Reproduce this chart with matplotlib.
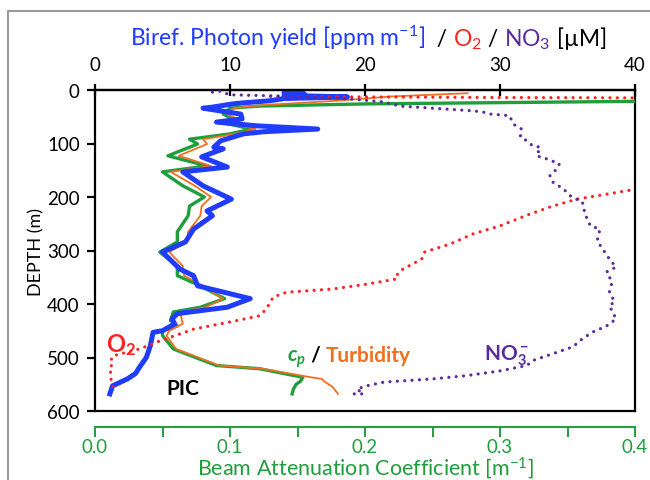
import numpy as np
import matplotlib.pyplot as plt
from matplotlib.patches import Rectangle

plt.rcParams['font.family'] = ['Lato', 'DejaVu Sans']
plt.rcParams['mathtext.fontset'] = 'custom'
plt.rcParams['mathtext.rm'] = 'Lato'
plt.rcParams['mathtext.it'] = 'Lato:italic'
plt.rcParams['mathtext.bf'] = 'Lato:bold'
plt.rcParams['mathtext.bfit'] = 'Lato:bold:italic'
plt.rcParams['mathtext.default'] = 'regular'

# Birefringent photon yield / PIC (ppm m^-1), top axis
blue_depth = [2, 5, 7, 10, 13, 16, 20, 24, 26, 32, 34, 45, 54, 60, 67, 73, 78, 82,
              95, 107, 110, 125, 144, 153, 179, 204, 226, 235, 260, 284, 303,
              335, 347, 366, 390, 406, 418, 428, 437, 450, 453, 478, 500, 518,
              530, 540, 553, 568]
blue_val = [15.3, 14.0, 15.5, 14.0, 18.7, 14.0, 13.0, 11.0, 10.2, 8.7, 8.0, 10.8, 10.9,
            9.0, 12.0, 16.5, 12.5, 11.0, 9.3, 8.8, 9.5, 7.9, 9.8, 6.5, 8.0, 10.1,
            8.3, 8.7, 7.3, 6.7, 5.0, 6.3, 7.3, 7.6, 11.5, 9.8, 6.1, 5.7, 5.9,
            5.0, 4.3, 4.1, 3.8, 3.3, 3.0, 2.4, 1.3, 1.1]

# Beam attenuation cp (m^-1), bottom axis
cp_depth = [20, 26, 30, 34, 45, 54, 60, 73, 82, 92, 101, 123, 142, 153, 179, 200,
            217, 235, 265, 284, 303, 329, 347, 366, 390, 406, 415, 431, 441, 450,
            459, 484, 515, 521, 537, 545, 550, 559, 568]
cp_val = [0.45, 0.20, 0.122, 0.100, 0.095, 0.102, 0.093, 0.116, 0.100, 0.070, 0.076,
          0.054, 0.083, 0.050, 0.065, 0.081, 0.070, 0.069, 0.061, 0.061, 0.048,
          0.061, 0.061, 0.078, 0.096, 0.078, 0.058, 0.056, 0.061, 0.050, 0.050,
          0.058, 0.090, 0.122, 0.154, 0.152, 0.149, 0.147, 0.146]

# Turbidity (scaled to cp axis)
tu_depth = [6, 12, 20, 28, 34, 45, 54, 60, 73, 82, 92, 101, 123, 142, 153, 179, 200,
            217, 235, 265, 284, 303, 329, 347, 366, 390, 406, 415, 437, 450, 459,
            484, 515, 521, 537, 540, 545, 555, 568]
tu_val = [0.276, 0.22, 0.18, 0.125, 0.103, 0.098, 0.105, 0.096, 0.119, 0.104,
          0.080, 0.083, 0.062, 0.086, 0.056, 0.074, 0.086, 0.079, 0.078, 0.069,
          0.068, 0.055, 0.065, 0.066, 0.080, 0.095, 0.082, 0.063, 0.065, 0.055,
          0.053, 0.060, 0.092, 0.124, 0.160, 0.168, 0.170, 0.176, 0.180]

# Oxygen (uM), top axis
o2_depth = [12, 13, 14, 15, 60, 180, 187, 204, 217, 232, 254, 269, 288, 303, 316,
            335, 344, 353, 363, 372, 378, 387, 409, 422, 431, 447, 469, 484, 497,
            512, 518, 531, 553, 562]
o2_val = [13.0, 20.0, 30.0, 45.0, 60.0, 50.0, 39.7, 35.7, 33.9, 32.2, 30.0, 28.0,
          26.3, 24.4, 24.2, 22.8, 22.4, 22.4, 20.1, 17.6, 14.2, 13.2, 12.7, 12.2,
          10.5, 7.3, 4.8, 3.3, 1.3, 1.1, 1.3, 1.1, 1.3, 1.5]

# Nitrate (uM), top axis
no3_depth = [4, 2, 9, 12, 17, 22, 30, 39, 41, 45, 48, 64, 73, 88, 95, 104, 107, 123,
             129, 138, 148, 160, 172, 185, 200, 209, 232, 254, 260, 282, 297, 316,
             331, 340, 359, 378, 396, 403, 428, 441, 452, 465, 480, 493, 506, 515,
             525, 534, 540, 544, 546, 553, 559, 568, 568]
no3_val = [8.7, 9.2, 10.0, 15.0, 19.0, 21.3, 22.6, 28.0, 28.7, 29.3, 30.7, 31.0,
           31.6, 31.5, 32.0, 32.4, 33.0, 32.7, 33.5, 34.4, 34.2, 33.7, 33.9, 34.7,
           35.3, 36.1, 36.3, 36.7, 37.4, 37.2, 37.6, 38.1, 38.6, 37.9, 38.3, 38.1,
           38.5, 38.1, 38.6, 37.9, 36.9, 36.1, 35.4, 33.9, 32.4, 32.0, 30.0, 27.5,
           25.0, 22.6, 21.4, 20.1, 19.4, 19.9, 18.9]

green = '#1f9e3c'
blue = '#1f3cff'
orange = '#f07020'
red = '#ff2020'
purple = '#5b2a9e'

fig = plt.figure(figsize=(6.5, 4.81), dpi=100)
fig.patches.append(Rectangle((8 / 650, -0.1), 1.2, 1 - 12 / 481 + 0.1,
                             transform=fig.transFigure, fill=False,
                             edgecolor='#9a9a9a', linewidth=1.5))
ax = fig.add_axes([95 / 650, 1 - 412 / 481, 540 / 650, 321 / 481])
ax2 = ax.twiny()

dots = dict(linestyle=(0, (0.01, 2.3)), dash_capstyle='round', linewidth=2.3)
ax2.plot(blue_val, blue_depth, color=blue, lw=3.6, solid_joinstyle='round', zorder=2)
ax.plot(cp_val, cp_depth, color=green, lw=2.4, zorder=3)
ax.plot(tu_val, tu_depth, color=orange, lw=1.3, zorder=4)
ax2.plot(o2_val, o2_depth, color=red, zorder=5, **dots)
ax2.plot(no3_val, no3_depth, color=purple, zorder=5, **dots)

ax.set_xlim(0, 0.4)
ax2.set_xlim(0, 40)
ax.set_ylim(600, 0)
ax.set_yticks(np.arange(0, 601, 100))
ax.set_xticks(np.arange(0, 0.41, 0.1))
ax.set_xticks(np.arange(0.05, 0.4, 0.1), minor=True)
ax.set_xticklabels(['0.0', '0.1', '0.2', '0.3', '0.4'])
ax2.set_xticks(np.arange(0, 41, 10))

for s in ['left', 'right', 'top']:
    ax.spines[s].set_linewidth(1.6)
ax2.spines['top'].set_linewidth(1.6)
ax2.spines['bottom'].set_visible(False)
ax2.spines['left'].set_visible(False)
ax2.spines['right'].set_visible(False)

# detached green bottom axis, black frame line kept at the plot bottom
gspine = ax.spines['bottom']
gspine.set_position(('outward', 11.5))
gspine.set_color(green)
gspine.set_linewidth(1.4)
ax.plot([0, 1], [0, 0], transform=ax.transAxes, color='black', lw=1.6,
        clip_on=False, zorder=6)

ax.tick_params(axis='x', which='both', colors=green, direction='out', length=7,
               width=1.4, labelsize=13.5, pad=1)
ax.tick_params(axis='y', direction='out', length=6, width=1.6, labelsize=13.5, pad=5)
ax2.tick_params(axis='x', direction='inout', length=9, width=1.6, labelsize=13.5,
                pad=8)

ax.set_ylabel('DEPTH (m)', fontsize=13, labelpad=2)
ax.set_xlabel('Beam Attenuation Coefficient [m$^{-1}$]', color=green, fontsize=15.5,
              labelpad=-0.5)

renderer = fig.canvas.get_renderer()


def chain(x_px, y_px, parts, **kw):
    # place coloured pieces of text one after another on the same baseline
    x = x_px
    for s, c in parts:
        t = fig.text(x / 650, 1 - y_px / 481, s, color=c, va='baseline',
                     ha='left', **kw)
        x += t.get_window_extent(renderer).width


chain(130, 46, [('Biref. Photon yield [ppm m$^{-1}$]', blue),
                ('  / ', 'black'), ('O$_2$', red), (' / ', 'black'),
                ('NO$_3$', purple), (' [µM]', 'black')], fontsize=16.5)

chain(287, 362, [('$\\mathbfit{c_p}$', green), (' / ', 'black'),
                 ('Turbidity', orange)], fontsize=15, fontweight='bold')

fig.text(121 / 650, 1 - 345 / 481, '$\\mathbf{O_2}$', color=red, fontsize=17,
         ha='center', va='center')
fig.text(183 / 650, 1 - 389 / 481, 'PIC', fontsize=15, fontweight='bold',
         ha='center', va='center')
fig.text(506 / 650, 1 - 356 / 481, '$\\mathbf{NO_3^-}$', color=purple,
         fontsize=15, ha='center', va='center')

fig.savefig('out.png', dpi=100)
